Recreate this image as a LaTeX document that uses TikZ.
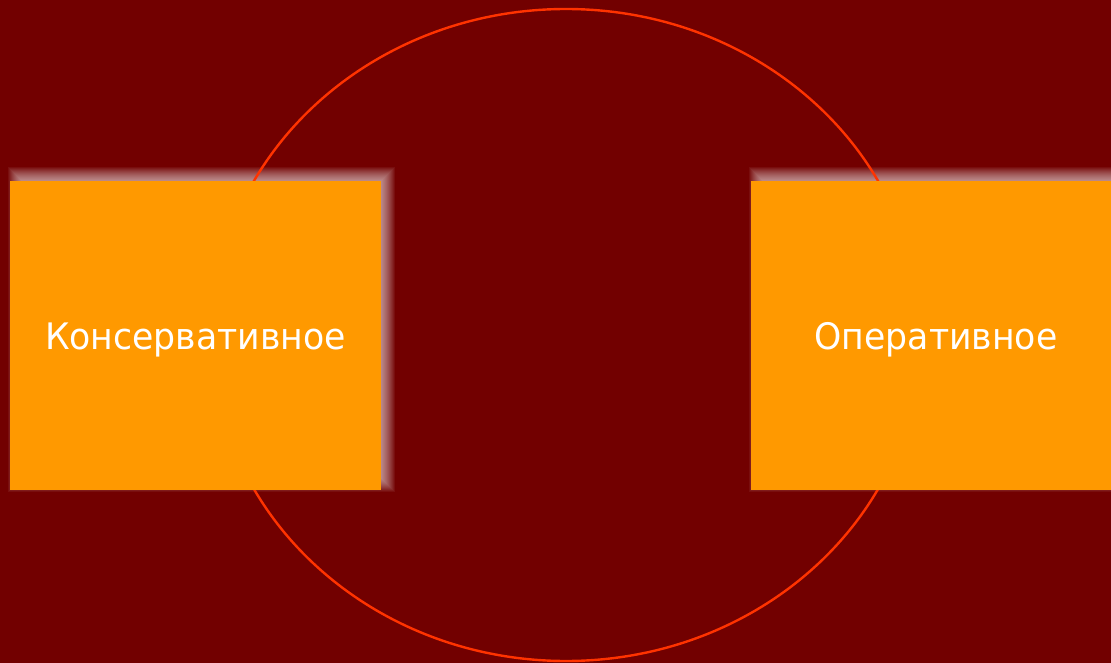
\documentclass[tikz,border=0pt]{standalone}
\usepackage{fontspec}
\setmainfont[FakeStretch=0.95]{DejaVu Sans}
\definecolor{bgred}{RGB}{114,0,0}
\definecolor{boxorange}{RGB}{255,153,0}
\definecolor{ringred}{RGB}{255,51,0}
\tikzset{
  ring/.style={draw=ringred, line width=2.4pt},
  optbox/.style={fill=boxorange, draw=none},
  glowlayer/.style={fill=white, fill opacity=0.055, draw=none},
  label/.style={text=white, font=\fontsize{36.5}{42}\selectfont, anchor=base, inner sep=0pt}
}
\newcommand{\glowrect}[4]{%
  \foreach \d in {8,7,...,-8} {
    \path[glowlayer] ({#1+6-\d},{#2-6-\d}) rectangle ({#3+6+\d},{#4-6+\d});
  }%
}
\begin{document}
\begin{tikzpicture}[x=1pt,y=-1pt]
  \useasboundingbox (0,0) rectangle (1111,663);
  \fill[bgred] (0,0) rectangle (1111,663);
  \glowrect{10}{181}{381}{490}
  \glowrect{751}{181}{1122}{490}
  \draw[ring] (566,335) ellipse [x radius=354, y radius=326];
  \path[optbox] (10,181) rectangle (381,490);
  \path[optbox] (751,181) rectangle (1122,490);
  \node[label] (cons) at (195.5,349) {Консервативное};
  \node[label] (oper) at (936,349) {Оперативное};
\end{tikzpicture}
\end{document}
